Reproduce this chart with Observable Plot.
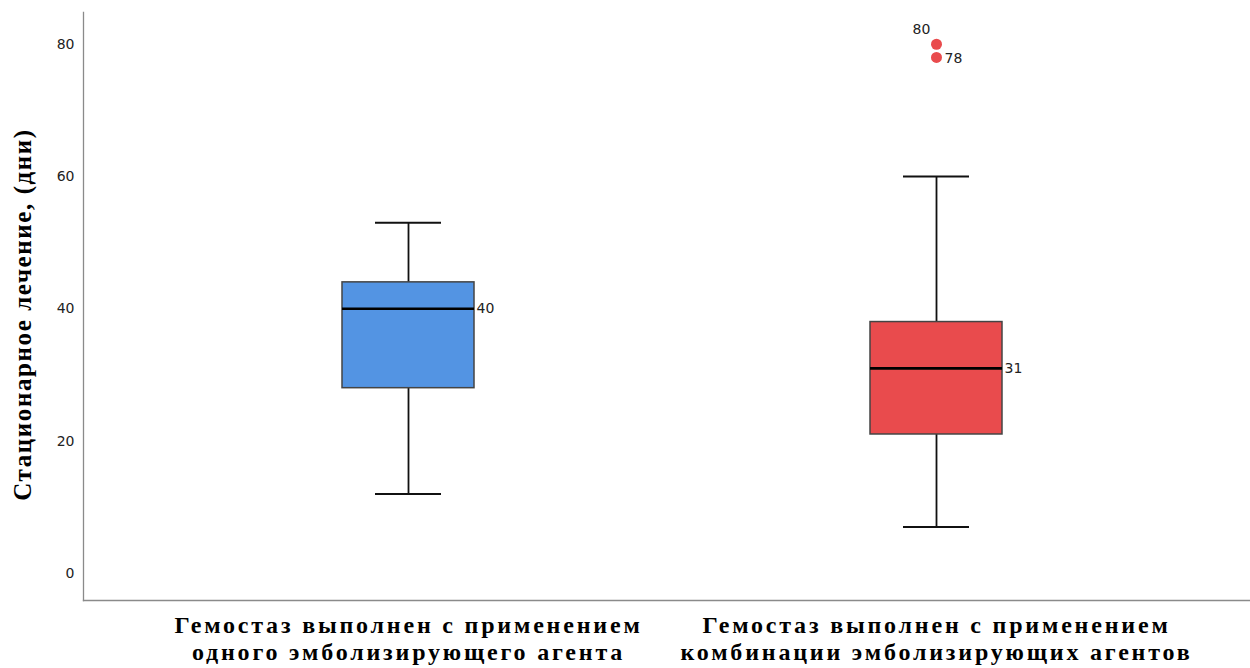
<!DOCTYPE html>
<html>
<head>
<meta charset="utf-8">
<script src="https://cdn.jsdelivr.net/npm/d3@7"></script>
<script src="https://cdn.jsdelivr.net/npm/@observablehq/plot@0.6"></script>
<style>
  html, body { margin: 0; padding: 0; background: #fff; }
</style>
</head>
<body>
<div id="chart"></div>
<script>
const groups = ["single", "combo"];
const groupLabels = [
  "Гемостаз выполнен с применением\nодного эмболизирующего агента",
  "Гемостаз выполнен с применением\nкомбинации эмболизирующих агентов"
];
const whiskerLow = [12, 7];
const q1 = [28, 21];
const medians = [40, 31];
const q3 = [44, 38];
const whiskerHigh = [53, 60];
const fills = ["#5394E3", "#E94B4D"];
const outlierGroup = ["combo", "combo"];
const outlierValues = [80, 78];
const outlierLabels = ["80", "78"];
const yTicks = [0, 20, 40, 60, 80];
const yLabel = "Стационарное лечение, (дни)";

const boxes = groups.map((g, i) => ({
  g, lo: whiskerLow[i], q1: q1[i], med: medians[i], q3: q3[i], hi: whiskerHigh[i], fill: fills[i]
}));
const outliers = outlierValues.map((v, i) => ({ g: outlierGroup[i], v, label: outlierLabels[i] }));
const labelOf = Object.fromEntries(groups.map((g, i) => [g, groupLabels[i]]));

const chart = Plot.plot({
  width: 1250,
  height: 668,
  marginLeft: 83,
  marginRight: 0,
  marginTop: 12,
  marginBottom: 68,
  style: { background: "#fff", fontFamily: "DejaVu Sans" },
  x: { domain: groups, range: [83, 1260], paddingInner: 0.75, paddingOuter: 0.4875, axis: null },
  y: { domain: [-4.1, 84.8], axis: null },
  marks: [
    Plot.frame({ anchor: "left", stroke: "#8a8a8a", strokeWidth: 1.3 }),
    Plot.frame({ anchor: "bottom", stroke: "#8a8a8a", strokeWidth: 1.3 }),
    Plot.axisY({ ticks: yTicks, tickSize: 0, tickPadding: 9, fontSize: 14, fill: "#222", label: null }),
    Plot.axisX({
      tickSize: 0, tickPadding: 14, label: null,
      tickFormat: d => labelOf[d],
      fontSize: 24, fontWeight: "bold", fontFamily: "Liberation Serif", fill: "#000", lineHeight: 1.1
    }),
    Plot.text([yLabel], {
      frameAnchor: "left", dx: -61, dy: 8, rotate: -90, text: d => d, textAnchor: "middle",
      fontSize: 25, fontWeight: "bold", fontFamily: "Liberation Serif", fill: "#000"
    }),
    // whiskers
    Plot.ruleX(boxes, { x: "g", y1: "lo", y2: "q1", stroke: "#111", strokeWidth: 1.8 }),
    Plot.ruleX(boxes, { x: "g", y1: "q3", y2: "hi", stroke: "#111", strokeWidth: 1.8 }),
    Plot.tickY(boxes, { x: "g", y: "lo", stroke: "#111", strokeWidth: 2, insetLeft: 33, insetRight: 33 }),
    Plot.tickY(boxes, { x: "g", y: "hi", stroke: "#111", strokeWidth: 2, insetLeft: 33, insetRight: 33 }),
    // boxes
    Plot.barY(boxes, { x: "g", y1: "q1", y2: "q3", fill: "fill", stroke: "#444", strokeWidth: 1.5 }),
    Plot.tickY(boxes, { x: "g", y: "med", stroke: "#000", strokeWidth: 2.6 }),
    Plot.text(boxes, { x: "g", y: "med", text: d => String(d.med), dx: 68, textAnchor: "start", fontSize: 14, fill: "#222" }),
    // outliers
    Plot.dot(outliers, { x: "g", y: "v", r: 5.5, fill: "#E94B4D", stroke: null }),
    Plot.text(outliers, {
      filter: d => d.v === 80, x: "g", y: "v", text: "label", fontSize: 14, fill: "#222",
      dx: -15, dy: -15, textAnchor: "middle"
    }),
    Plot.text(outliers, {
      filter: d => d.v !== 80, x: "g", y: "v", text: "label", fontSize: 14, fill: "#222",
      dx: 8, dy: 1, textAnchor: "start"
    })
  ]
});
d3.select(chart).selectAll('g[aria-label="x-axis tick label"] text').style("letter-spacing", "2.8px");
d3.select(chart).selectAll("text").filter(function () { return this.textContent === yLabel; }).style("letter-spacing", "1.6px");
document.getElementById("chart").append(chart);
</script>
</body>
</html>
